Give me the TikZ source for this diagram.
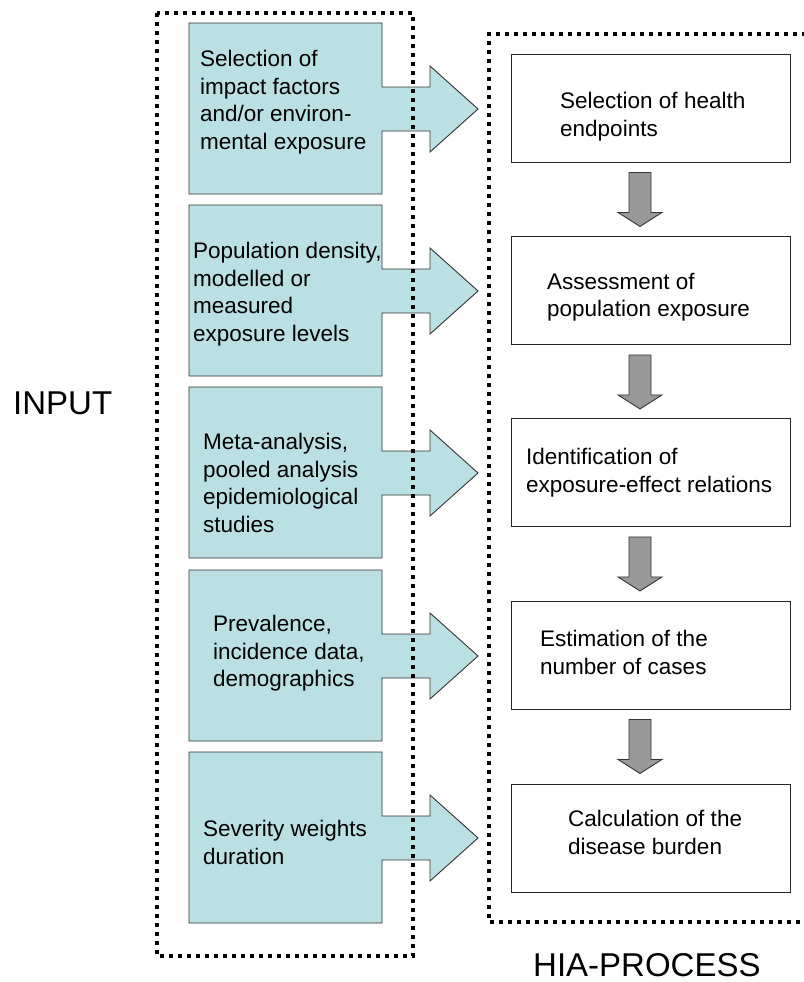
\documentclass[tikz,border=0pt]{standalone}
\usepackage{fontspec}
\setmainfont{Liberation Sans}
\usetikzlibrary{calc}
\definecolor{inblue}{HTML}{BBE0E3}
\definecolor{arrgray}{HTML}{999999}
\begin{document}
\begin{tikzpicture}[x=1pt,y=-1pt,
  bluebox/.style={fill=inblue,draw=black!80,line width=0.9pt,line join=miter},
  dotbox/.style={line width=4pt,dash pattern=on 4pt off 5pt},
  procbox/.style={draw=black!85,line width=0.9pt,fill=white,minimum width=279pt,minimum height=108pt,inner sep=0pt},
  txt/.style={anchor=north west,inner sep=0pt,align=left,font=\fontsize{22.5}{27.5}\selectfont},
  bigtxt/.style={anchor=north west,inner sep=0pt,font=\fontsize{33}{40}\selectfont},
  grayarr/.style={fill=arrgray,draw=black!80,line width=0.9pt,line join=miter}]
\useasboundingbox (0,0) rectangle (803,982);

% input arrows (blue)
\foreach \t in {23,205,387,570,752}{
  \draw[bluebox] (189,\t) -- (382,\t) -- (382,\t+64) -- (430,\t+64) -- (430,\t+43)
    -- (478,\t+86) -- (430,\t+129) -- (430,\t+108) -- (382,\t+108) -- (382,\t+171)
    -- (189,\t+171) -- cycle;
}

% input texts
\node[txt] (i1) at (200,50) {Selection of\\impact factors\\and/or environ-\\mental exposure};
\node[txt] (i2) at (193,242) {Population density,\\modelled or\\measured\\exposure levels};
\node[txt] (i3) at (203,433) {Meta-analysis,\\pooled analysis\\epidemiological\\studies};
\node[txt] (i4) at (213,615) {Prevalence,\\incidence data,\\demographics};
\node[txt] (i5) at (203,820) {Severity weights\\duration};

% dotted frames
\draw[dotbox] (156.5,13.5) rectangle (413,955.5);
\draw[dotbox] (815,34.5) -- (488.5,34.5) -- (488.5,922) -- (815,922);

% process boxes
\node[procbox] (p1) at (650.5,108) {};
\node[procbox] (p2) at (650.5,290.5) {};
\node[procbox] (p3) at (650.5,472.5) {};
\node[procbox] (p4) at (650.5,655) {};
\node[procbox] (p5) at (650.5,838) {};

\node[txt] (t1) at (560,92) {Selection of health\\endpoints};
\node[txt] (t2) at (547,273) {Assessment of\\population exposure};
\node[txt] (t3) at (526,448) {Identification of\\exposure-effect relations};
\node[txt] (t4) at (540,630) {Estimation of the\\number of cases};
\node[txt] (t5) at (568,810) {Calculation of the\\disease burden};

% gray arrows between process boxes
\foreach \a in {p1,p2,p3,p4}{
  \begin{scope}[shift={(\a.south)}]
    \draw[grayarr] (-21.5,10) -- (0.5,10) -- (0.5,50) -- (11.5,50) -- (-10.5,64)
      -- (-32.5,50) -- (-21.5,50) -- cycle;
  \end{scope}
}

% labels
\node[bigtxt] (inp) at (13,392) {INPUT};
\node[bigtxt] (hia) at (533,953) {HIA-PROCESS};
\end{tikzpicture}
\end{document}
